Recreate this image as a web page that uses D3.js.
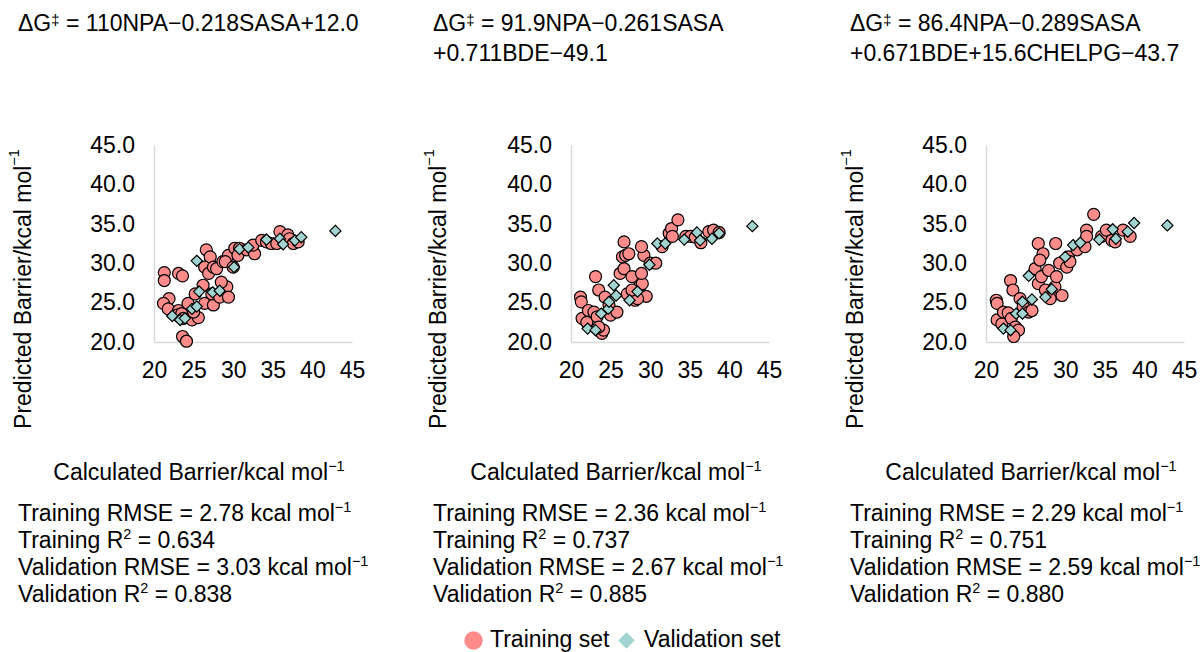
<!DOCTYPE html>
<html>
<head>
<meta charset="utf-8">
<script src="https://cdn.jsdelivr.net/npm/d3@7"></script>
<style>
  html, body { margin: 0; padding: 0; background: #fff; }
  svg { display: block; font-family: "Liberation Sans", Arial, sans-serif; }
</style>
</head>
<body>
<svg id="chart" width="1202" height="652"></svg>
<script>
// Model 1: NPA + SASA
const train1 = [
  [21.3,28.8],[21.3,27.8],[23.1,28.7],[23.6,28.4],[21.9,25.5],[21.2,24.9],[21.8,24.2],
  [23.6,20.7],[24.1,20.1],[23.1,24.0],[22.9,23.4],[23.5,23.6],[23.7,23.0],[24.8,22.8],
  [25.6,23.1],[25.0,23.8],[24.3,24.9],[25.2,26.1],[26.2,27.2],[26.4,24.9],[27.5,24.7],
  [27.3,26.1],[28.3,25.7],[28.7,26.6],[29.2,27.0],[29.4,25.7],[28.5,27.6],[26.6,31.7],
  [27.1,30.8],[26.4,29.5],[26.9,28.7],[27.5,29.5],[27.9,29.3],[28.7,30.2],[29.4,31.0],
  [29.0,30.2],[30.2,31.9],[30.0,29.5],[30.8,31.9],[30.6,31.0],[31.7,31.7],[32.7,31.2],
  [32.5,32.3],[33.6,32.9],[34.2,32.7],[34.8,32.5],[35.5,32.5],[35.9,34.0],[36.9,33.6],
  [37.1,33.1],[37.6,32.5],[38.2,32.7]
];
const valid1 = [
  [25.4,30.3],[22.3,23.3],[23.3,22.8],[23.9,23.0],[24.8,24.2],[25.4,24.5],[25.7,26.4],
  [27.4,26.3],[28.3,26.5],[30.1,29.5],[30.8,31.8],[31.9,32.0],[34.2,33.0],[35.9,33.1],
  [36.3,32.4],[37.8,32.9],[38.6,33.3],[42.9,34.1]
];

// Model 2: NPA + SASA + BDE
const train2 = [
  [21.2,25.7],[21.3,25.1],[21.4,23.0],[22.0,22.5],[22.2,24.0],[22.9,23.8],[23.1,28.3],
  [23.5,26.6],[23.3,23.2],[23.9,21.1],[24.1,21.5],[23.5,21.9],[24.3,25.7],[24.8,24.7],
  [25.0,23.4],[25.8,23.8],[26.2,28.7],[26.7,29.3],[26.5,30.8],[26.9,31.0],[26.7,32.7],
  [27.3,31.2],[27.7,28.3],[27.1,26.1],[28.1,25.3],[28.8,26.1],[28.6,27.0],[29.0,27.4],
  [28.9,28.7],[29.2,31.0],[28.9,32.1],[29.5,25.8],[30.0,30.0],[30.7,30.0],[31.5,32.1],
  [32.4,33.8],[32.7,34.4],[33.5,35.5],[32.8,33.4],[34.5,33.4],[35.1,33.4],[35.7,33.3],
  [36.4,32.6],[37.4,34.0],[38.0,34.2],[38.7,33.9],[28.4,25.5],[27.7,26.6]
];
const valid2 = [
  [22.1,21.7],[23.1,21.5],[23.8,23.6],[24.7,24.2],[24.8,25.1],[25.4,27.2],[25.7,25.9],
  [27.4,25.3],[28.4,26.4],[29.9,29.8],[30.9,32.5],[31.9,32.5],[34.3,33.0],[35.9,33.9],
  [36.3,32.9],[37.8,33.1],[38.7,33.8],[42.9,34.7]
];

// Model 3: NPA + SASA + BDE + CHELPG
const train3 = [
  [21.3,25.3],[21.4,24.9],[21.4,22.8],[22.0,22.3],[22.2,23.8],[22.8,23.7],[23.1,27.8],
  [23.4,26.6],[23.2,23.0],[23.7,21.9],[24.1,21.5],[23.5,20.7],[24.3,25.5],[24.7,24.5],
  [25.4,23.8],[25.8,24.0],[26.2,29.3],[26.6,32.5],[27.2,31.2],[26.8,30.4],[26.6,27.4],
  [27.0,28.3],[27.9,29.1],[27.5,26.6],[28.3,25.9],[28.7,27.0],[28.9,28.3],[28.8,32.5],
  [29.3,30.0],[29.6,25.9],[30.2,29.5],[30.4,30.8],[30.6,30.2],[31.5,31.7],[32.5,32.1],
  [32.7,34.2],[32.7,33.4],[33.6,36.2],[34.6,33.4],[35.2,34.2],[35.9,32.9],[36.3,32.7],
  [37.3,34.2],[38.2,33.4],[28.1,25.5]
];
const valid3 = [
  [22.2,21.7],[23.1,21.5],[23.8,23.6],[24.6,23.6],[24.6,25.1],[25.4,28.4],[25.8,25.4],
  [27.5,25.7],[28.3,26.7],[30.0,30.8],[31.0,32.3],[31.9,32.6],[34.3,33.0],[36.0,34.3],
  [36.4,33.1],[37.9,34.0],[38.7,35.1],[42.9,34.8]
];

// Regression equations, one array of lines per model (text after "ΔG‡ = ")
const equations = [
  ["110NPA−0.218SASA+12.0"],
  ["91.9NPA−0.261SASA", "+0.711BDE−49.1"],
  ["86.4NPA−0.289SASA", "+0.671BDE+15.6CHELPG−43.7"]
];
// Fit statistics: [training RMSE, training R², validation RMSE, validation R²]
const stats = [
  ["2.78", "0.634", "3.03", "0.838"],
  ["2.36", "0.737", "2.67", "0.885"],
  ["2.29", "0.751", "2.59", "0.880"]
];
const xTicks = [20, 25, 30, 35, 40, 45];
const yTicks = [20, 25, 30, 35, 40, 45];
const seriesNames = ["Training set", "Validation set"];

const trainSets = [train1, train2, train3];
const validSets = [valid1, valid2, valid3];

const svg = d3.select("#chart");
const FONT = 23;
const SUP = 14.5;
const SUP_DY = 9;
const trainFill = "#ff8b8b";
const validFill = "#a1d4d1";
const axisColor = "#d9d9d9";

// Each panel: plot origin (left of y-axis) and text column left edge
const panelLeft = [154, 571, 986];
const textLeft = [18, 433, 850];
const plotW = 198, plotTop = 145, plotBottom = 342;

function addSupText(sel, base, sup, after) {
  sel.append("tspan").text(base);
  sel.append("tspan").attr("dy", -SUP_DY).attr("font-size", SUP).text(sup);
  if (after) sel.append("tspan").attr("dy", SUP_DY).text(after);
}

panelLeft.forEach((left, i) => {
  const g = svg.append("g");
  const x = d3.scaleLinear().domain([20, 45]).range([left, left + plotW]);
  const y = d3.scaleLinear().domain([20, 45]).range([plotBottom, plotTop]);

  // Equation
  equations[i].forEach((line, k) => {
    const t = g.append("text").attr("x", textLeft[i]).attr("y", 31 + k * 29.5)
      .attr("font-size", FONT).attr("fill", "#000");
    if (k === 0) {
      t.append("tspan").text("ΔG");
      t.append("tspan").attr("dy", -6).attr("font-size", 15).text("‡");
      t.append("tspan").attr("dy", 6).text(" = " + line);
    } else {
      t.text(line);
    }
  });

  // Axes
  const xAxis = d3.axisBottom(x).tickValues(xTicks).tickSize(0).tickPadding(20)
    .tickFormat(d3.format("d"));
  const yAxis = d3.axisLeft(y).tickValues(yTicks).tickSize(0).tickPadding(19)
    .tickFormat(d3.format(".1f"));
  const gx = g.append("g").attr("transform", `translate(0,${plotBottom})`).call(xAxis);
  const gy = g.append("g").attr("transform", `translate(${left},0)`).call(yAxis);
  [gx, gy].forEach(a => {
    a.select(".domain").attr("stroke", axisColor).attr("stroke-width", 1.5);
    a.selectAll("text").attr("font-size", FONT).attr("fill", "#000")
      .attr("font-family", "Liberation Sans, Arial, sans-serif");
  });

  // Axis titles
  const yt = g.append("text")
    .attr("transform", `translate(${textLeft[i] + 4.5},${289}) rotate(-90)`)
    .attr("text-anchor", "middle").attr("dominant-baseline", "central")
    .attr("font-size", FONT);
  addSupText(yt, "Predicted Barrier/kcal mol", "−1");
  const xt = g.append("text")
    .attr("x", left + 45).attr("y", 480)
    .attr("text-anchor", "middle").attr("font-size", FONT);
  addSupText(xt, "Calculated Barrier/kcal mol", "−1");

  // Points: training circles, then validation diamonds
  g.append("g").selectAll("circle").data(trainSets[i]).join("circle")
    .attr("cx", d => x(d[0])).attr("cy", d => y(d[1])).attr("r", 6)
    .attr("fill", trainFill).attr("stroke", "#000").attr("stroke-width", 1.2);
  const diamond = d3.symbol().type(d3.symbolDiamond2).size(80);
  g.append("g").selectAll("path").data(validSets[i]).join("path")
    .attr("transform", d => `translate(${x(d[0])},${y(d[1])})`)
    .attr("d", diamond)
    .attr("fill", validFill).attr("stroke", "#000").attr("stroke-width", 1.2);

  // Statistics block
  const s = stats[i];
  const lines = [
    ["Training RMSE = " + s[0] + " kcal mol", "−1"],
    ["Training R", "2", " = " + s[1]],
    ["Validation RMSE = " + s[2] + " kcal mol", "−1"],
    ["Validation R", "2", " = " + s[3]]
  ];
  lines.forEach((ln, k) => {
    const t = g.append("text").attr("x", textLeft[i]).attr("y", 521 + k * 27)
      .attr("font-size", FONT);
    addSupText(t, ln[0], ln[1], ln[2]);
  });
});

// Legend
const lg = svg.append("g");
lg.append("circle").attr("cx", 473.5).attr("cy", 640.5).attr("r", 9.2).attr("fill", trainFill);
lg.append("text").attr("x", 490).attr("y", 647).attr("font-size", FONT).text(seriesNames[0]);
lg.append("path").attr("transform", "translate(626.5,640.5)")
  .attr("d", d3.symbol().type(d3.symbolDiamond2).size(175)).attr("fill", validFill);
lg.append("text").attr("x", 644).attr("y", 647).attr("font-size", FONT).text(seriesNames[1]);
</script>
</body>
</html>
